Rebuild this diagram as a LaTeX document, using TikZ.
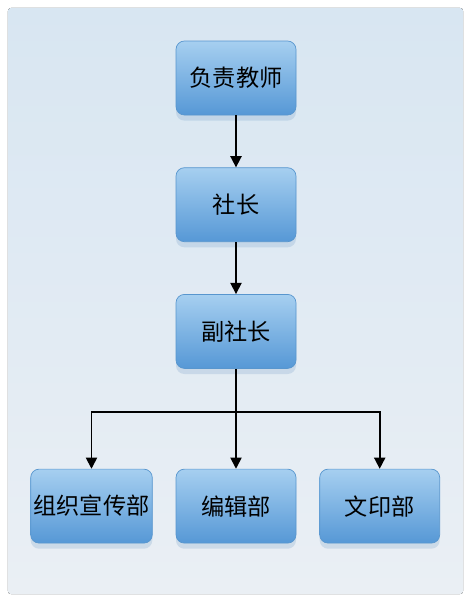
\documentclass[tikz,border=0pt]{standalone}
\usepackage{fontspec}
\newfontfamily\cjk{Noto Sans CJK SC}
\usepackage{tikz}
\usetikzlibrary{arrows.meta, positioning, shadows}
\usepackage[dvipsnames,svgnames]{xcolor}
\definecolor{panelhi}{RGB}{216,230,242}
\definecolor{panello}{RGB}{234,239,244}
\definecolor{boxtop}{RGB}{166,207,240}
\definecolor{boxbot}{RGB}{86,152,214}
\definecolor{boxline}{RGB}{88,150,206}
\definecolor{shadecol}{RGB}{120,160,200}
\tikzset{
  basebox/.style={rectangle,rounded corners=6pt,draw=boxline,line width=0.5pt,align=center,
    font=\cjk\fontsize{16.5}{19}\selectfont,text=black,inner xsep=2pt},
  rolenode/.style={basebox,top color=boxtop,bottom color=boxbot,minimum width=3cm,minimum height=1.85cm,
    drop shadow={shadow xshift=0pt,shadow yshift=-4pt,fill=shadecol,opacity=0.25}},
  arr/.style={-{Triangle[length=8pt,width=8pt]},line width=1.2pt,color=black}
}

\begin{document}
\begin{tikzpicture}[node distance=1.3cm and 0.575cm]
  \useasboundingbox (0,0) rectangle (11.775,-15.125);
  \fill[top color=panelhi,bottom color=panello,rounded corners=2pt] (0.2,-0.2) rectangle (11.575,-14.85);
  \node[rolenode] (teacher) at (5.9,-1.95) {负责教师};
  \node[rolenode,below=of teacher] (head) {社长};
  \node[rolenode,below=of head] (vice) {副社长};
  \node[rolenode,below=2.5cm of vice] (edit) {编辑部};
  \node[rolenode,left=of edit] (org) {组织宣传部};
  \node[rolenode,right=of edit] (print) {文印部};
  \foreach \a/\b in {teacher/head,head/vice,vice/edit} \draw[arr] (\a)--(\b);
  \coordinate (split) at ([yshift=-1.075cm]vice.south);
  \draw[arr] (split) -| (org.north);
  \draw[arr] (split) -| (print.north);
\end{tikzpicture}
\end{document}
